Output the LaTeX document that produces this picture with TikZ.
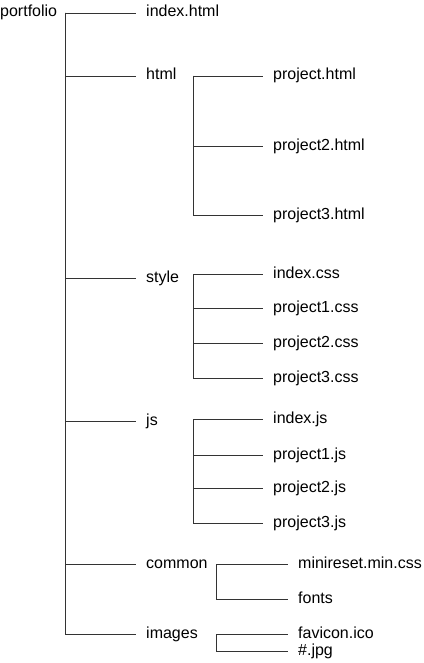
\documentclass[tikz,border=0pt]{standalone}
\usepackage{fontspec}
\setmainfont{Liberation Sans}
\begin{document}
\begin{tikzpicture}[x=1pt,y=-1pt,
  lbl/.style={anchor=west,inner sep=0pt,text height=11pt,text depth=3pt,font=\fontsize{16}{19}\selectfont},
  br/.style={draw=black!80,line width=0.9pt,shorten >=10pt}]
\useasboundingbox[fill=white] (0,0) rectangle (423,663);
% root and first level
\node[lbl] (portfolio) at (0,13) {portfolio};
\node[lbl] (index) at (146,13) {index.html};
\node[lbl] (html) at (146,76) {html};
\node[lbl] (style) at (146,278) {style};
\node[lbl] (js) at (146,421) {js};
\node[lbl] (common) at (146,564) {common};
\node[lbl] (images) at (146,634) {images};
% html children
\node[lbl] (ph1) at (273,76) {project.html};
\node[lbl] (ph2) at (273,146) {project2.html};
\node[lbl] (ph3) at (273,215) {project3.html};
% style children
\node[lbl] (c0) at (273,274) {index.css};
\node[lbl] (c1) at (273,308) {project1.css};
\node[lbl] (c2) at (273,343) {project2.css};
\node[lbl] (c3) at (273,378) {project3.css};
% js children
\node[lbl] (j0) at (273,419) {index.js};
\node[lbl] (j1) at (273,455) {project1.js};
\node[lbl] (j2) at (273,488) {project2.js};
\node[lbl] (j3) at (273,523) {project3.js};
% common children
\node[lbl] (mr) at (298,564) {minireset.min.css};
\node[lbl] (fo) at (298,599) {fonts};
% images children
\node[lbl] (fav) at (298,634) {favicon.ico};
\node[lbl] (jpg) at (298,651) {\#.jpg};
% junction points
\coordinate (t) at (65,13);
\coordinate (th) at (193,76);
\coordinate (ts) at (193,274);
\coordinate (tj) at (193,419);
\coordinate (tc) at (216,564);
\coordinate (ti) at (216,634);
% trunk connectors
\draw[br] (t) -- (index.west);
\draw[br] (t) |- (html.west);
\draw[br] (t) |- (style.west);
\draw[br] (t) |- (js.west);
\draw[br] (t) |- (common.west);
\draw[br] (t) |- (images.west);
% html
\draw[br] (th) -- (ph1.west);
\draw[br] (th) |- (ph2.west);
\draw[br] (th) |- (ph3.west);
% style
\draw[br] (ts) -- (c0.west);
\draw[br] (ts) |- (c1.west);
\draw[br] (ts) |- (c2.west);
\draw[br] (ts) |- (c3.west);
% js
\draw[br] (tj) -- (j0.west);
\draw[br] (tj) |- (j1.west);
\draw[br] (tj) |- (j2.west);
\draw[br] (tj) |- (j3.west);
% common
\draw[br] (tc) -- (mr.west);
\draw[br] (tc) |- (fo.west);
% images
\draw[br] (ti) -- (fav.west);
\draw[br] (ti) |- (jpg.west);
\end{tikzpicture}
\end{document}
